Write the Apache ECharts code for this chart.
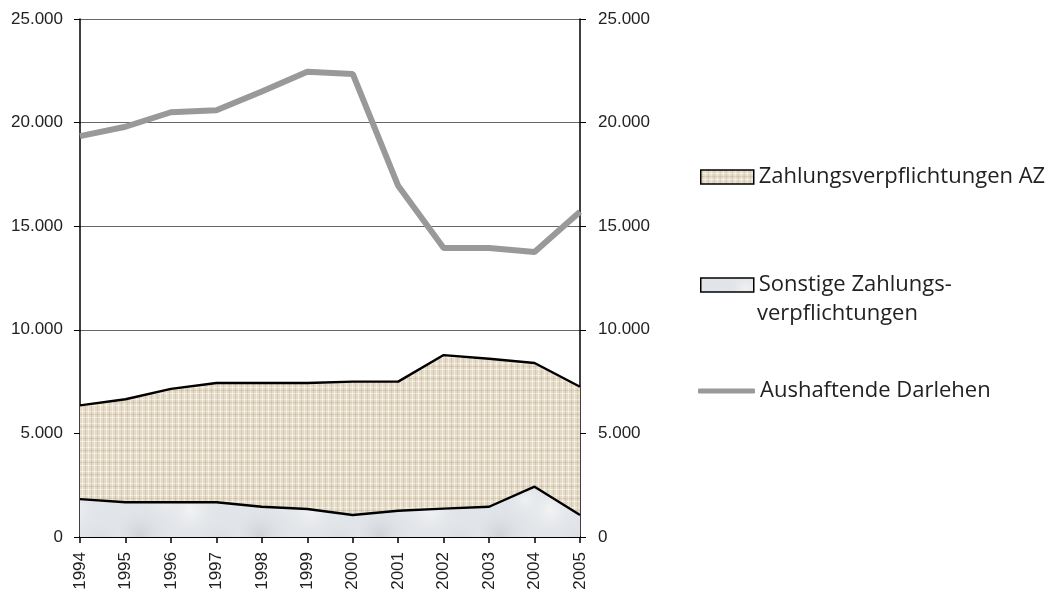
<!DOCTYPE html>
<html><head><meta charset="utf-8">
<script src="https://cdn.jsdelivr.net/npm/echarts@6/dist/echarts.min.js"></script>
<style>html,body{margin:0;padding:0;background:#fff}#c{width:1049px;height:593px}</style>
</head><body><div id="c"></div>
<script>
var years = ['1994','1995','1996','1997','1998','1999','2000','2001','2002','2003','2004','2005'];
var sonstige = [1830,1680,1680,1680,1460,1350,1060,1270,1370,1460,2430,1060];
var zahlungAZ = [4520,4970,5470,5750,5970,6080,6440,6230,7410,7140,5970,6190];
var darlehen = [19350,19800,20500,20600,21500,22450,22350,16950,13950,13950,13750,15700];
var yTicks = [0,5000,10000,15000,20000,25000];

function linen(){
  var c=document.createElement('canvas');c.width=12;c.height=12;var g=c.getContext('2d');
  g.fillStyle='#e5dac6';g.fillRect(0,0,12,12);
  g.fillStyle='rgba(255,255,255,0.5)';
  g.fillRect(0,3,12,1);g.fillRect(0,9,12,1);g.fillRect(4,0,1,12);g.fillRect(10,0,1,12);
  g.fillStyle='rgba(150,130,100,0.18)';
  g.fillRect(0,6,12,1);g.fillRect(7,0,1,12);g.fillRect(1,0,1,12);
  return c;
}
function marble(){
  var c=document.createElement('canvas');c.width=120;c.height=70;var g=c.getContext('2d');
  g.fillStyle='#e1e4e8';g.fillRect(0,0,120,70);
  var spots=[[20,45,30,'rgba(175,180,190,0.35)'],[70,20,34,'rgba(255,255,255,0.55)'],[100,55,26,'rgba(180,185,195,0.3)'],[45,10,22,'rgba(255,255,255,0.45)']];
  spots.forEach(function(s){var r=g.createRadialGradient(s[0],s[1],0,s[0],s[1],s[2]);r.addColorStop(0,s[3]);r.addColorStop(1,'rgba(225,228,232,0)');g.fillStyle=r;g.fillRect(0,0,120,70);});
  return c;
}
function fmt(v){ if(v===0) return '0'; var s=String(v); return s.slice(0,s.length-3)+'.'+s.slice(-3); }

var chart = echarts.init(document.getElementById('c'));
var labelFont = {fontFamily:'Liberation Sans, Arial, sans-serif', fontSize:17, color:'#222'};
var legendText = {fontFamily:'Open Sans', fontSize:22, color:'#222'};
var linenPat = {image:linen(),repeat:'repeat'};
var marblePat = {image:marble(),repeat:'repeat'};
chart.setOption({
  animation:false,
  grid:{left:80,right:469,top:19,bottom:56},
  legend:[
    {data:['Zahlungsverpflichtungen AZ'],left:695,top:161,icon:'rect',itemWidth:53,itemHeight:14,textStyle:legendText,
     itemStyle:{borderColor:'#000',borderWidth:1.5}},
    {data:['Sonstige Zahlungsverpflichtungen'],left:695,top:269,icon:'rect',itemWidth:53,itemHeight:14,
     textStyle:legendText,formatter:function(){return 'Sonstige Zahlungs-';},
     itemStyle:{borderColor:'#000',borderWidth:1.5}},
    {data:['Aushaftende Darlehen'],left:693,top:375,icon:'roundRect',itemWidth:57,itemHeight:5,textStyle:legendText}
  ],
  graphic:[{type:'text',left:757,top:303,style:{text:'verpflichtungen',font:'22px "Open Sans"',fill:'#222'}}],
  xAxis:{type:'category',data:years,boundaryGap:false,
    axisLine:{lineStyle:{color:'#000',width:2}},
    axisTick:{show:true,length:6,lineStyle:{color:'#000',width:1.5}},
    axisLabel:Object.assign({rotate:90,margin:15,interval:0},labelFont)},
  yAxis:[
    {type:'value',min:0,max:25000,interval:5000,position:'left',
     axisLine:{show:true,lineStyle:{color:'#000',width:1.5}},
     axisTick:{show:true,length:6,lineStyle:{color:'#000'}},
     splitLine:{show:true,lineStyle:{color:'#666',width:1}},
     axisLabel:Object.assign({margin:17,formatter:fmt},labelFont)},
    {type:'value',min:0,max:25000,interval:5000,position:'right',
     axisLine:{show:true,lineStyle:{color:'#000',width:1.5}},
     axisTick:{show:true,length:6,lineStyle:{color:'#000'}},
     splitLine:{show:false},
     axisLabel:Object.assign({margin:18,formatter:fmt},labelFont)}
  ],
  series:[
    {name:'Sonstige Zahlungsverpflichtungen',type:'line',stack:'a',data:sonstige,z:4,showSymbol:false,symbol:'none',
     lineStyle:{color:'#000',width:2.4},itemStyle:{color:marblePat},
     areaStyle:{color:marblePat,opacity:1}},
    {name:'Zahlungsverpflichtungen AZ',type:'line',stack:'a',data:zahlungAZ,z:3,showSymbol:false,symbol:'none',
     lineStyle:{color:'#000',width:2.4},itemStyle:{color:linenPat},
     areaStyle:{color:linenPat,opacity:1}},
    {name:'Aushaftende Darlehen',type:'line',data:darlehen,z:5,showSymbol:false,symbol:'none',
     lineStyle:{color:'#999',width:6},itemStyle:{color:'#999'}}
  ]
});
</script></body></html>
